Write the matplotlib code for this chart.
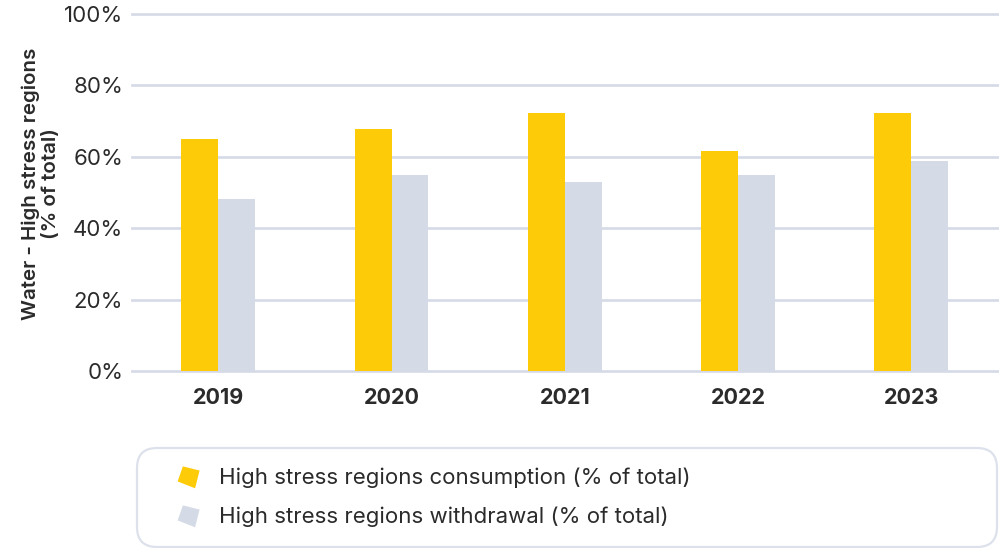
import matplotlib
matplotlib.use("Agg")
import matplotlib.pyplot as plt
import numpy as np
from matplotlib.path import Path
from matplotlib.lines import Line2D

years = ["2019", "2020", "2021", "2022", "2023"]
consumption = [65.0, 67.8, 72.3, 61.6, 72.3]
withdrawal = [48.2, 54.9, 52.9, 54.9, 58.8]
series_labels = ["High stress regions consumption (% of total)",
                 "High stress regions withdrawal (% of total)"]
yticks = [0, 20, 40, 60, 80, 100]

YELLOW = "#FDCB07"
GREY = "#D5DBE6"
GRID = "#D5DAE6"
TEXT = "#2B2B2B"

plt.rcParams["font.family"] = ["Inter", "DejaVu Sans"]

fig = plt.figure(figsize=(9.99, 5.48), dpi=100)
ax = fig.add_axes([0.1318, 0.323, 0.8672, 0.6515])

x = np.arange(len(years))
w = 0.213
ax.bar(x - w / 2, consumption, width=w, color=YELLOW, zorder=3)
ax.bar(x + w / 2, withdrawal, width=w, color=GREY, zorder=3)

ax.set_xlim(-0.5, len(years) - 0.5)
ax.set_ylim(0, 100)
ax.set_yticks(yticks)
ax.set_yticklabels([f"{v}%" for v in yticks], fontsize=16, color=TEXT)
ax.set_xticks(x)
ax.set_xticklabels(years, fontsize=15.5, fontweight="bold", color=TEXT)
ax.tick_params(axis="both", length=0)
ax.tick_params(axis="y", pad=6)
ax.tick_params(axis="x", pad=12)
ax.grid(axis="y", color=GRID, linewidth=1.9, zorder=0)
ax.set_axisbelow(True)
for s in ax.spines.values():
    s.set_visible(False)
for gl in ax.get_ygridlines():
    gl.set_clip_on(False)

ax.set_ylabel("Water - High stress regions\n(% of total)", fontsize=14.8,
              fontweight="semibold", color=TEXT, linespacing=1.12)
ax.yaxis.set_label_coords(-0.083, 0.525)

# skewed square legend marker
verts = [(-5.4, 9.7), (10.6, 5.7), (6.3, -11.3), (-10.4, -4.7), (-5.4, 9.7)]
codes = [Path.MOVETO, Path.LINETO, Path.LINETO, Path.LINETO, Path.CLOSEPOLY]
skew = Path(verts, codes)

handles = [
    Line2D([], [], linestyle="none", marker=skew, markersize=17,
           markerfacecolor=YELLOW, markeredgecolor="none"),
    Line2D([], [], linestyle="none", marker=skew, markersize=17,
           markerfacecolor=GREY, markeredgecolor="none"),
]
leg = fig.legend(handles, series_labels, loc="upper left",
                 bbox_to_anchor=(0.137, 0.0, 0.861, 0.183), mode="expand",
                 frameon=True, fancybox=True, fontsize=16, labelspacing=0.81,
                 handlelength=2.8, handletextpad=0.0, borderpad=0.9,
                 borderaxespad=0.0, labelcolor=TEXT)
frame = leg.get_frame()
frame.set_edgecolor(GRID)
frame.set_linewidth(1.6)
frame.set_boxstyle("round,pad=0,rounding_size=0.9")

fig.savefig("out.png", dpi=100, facecolor="white")
